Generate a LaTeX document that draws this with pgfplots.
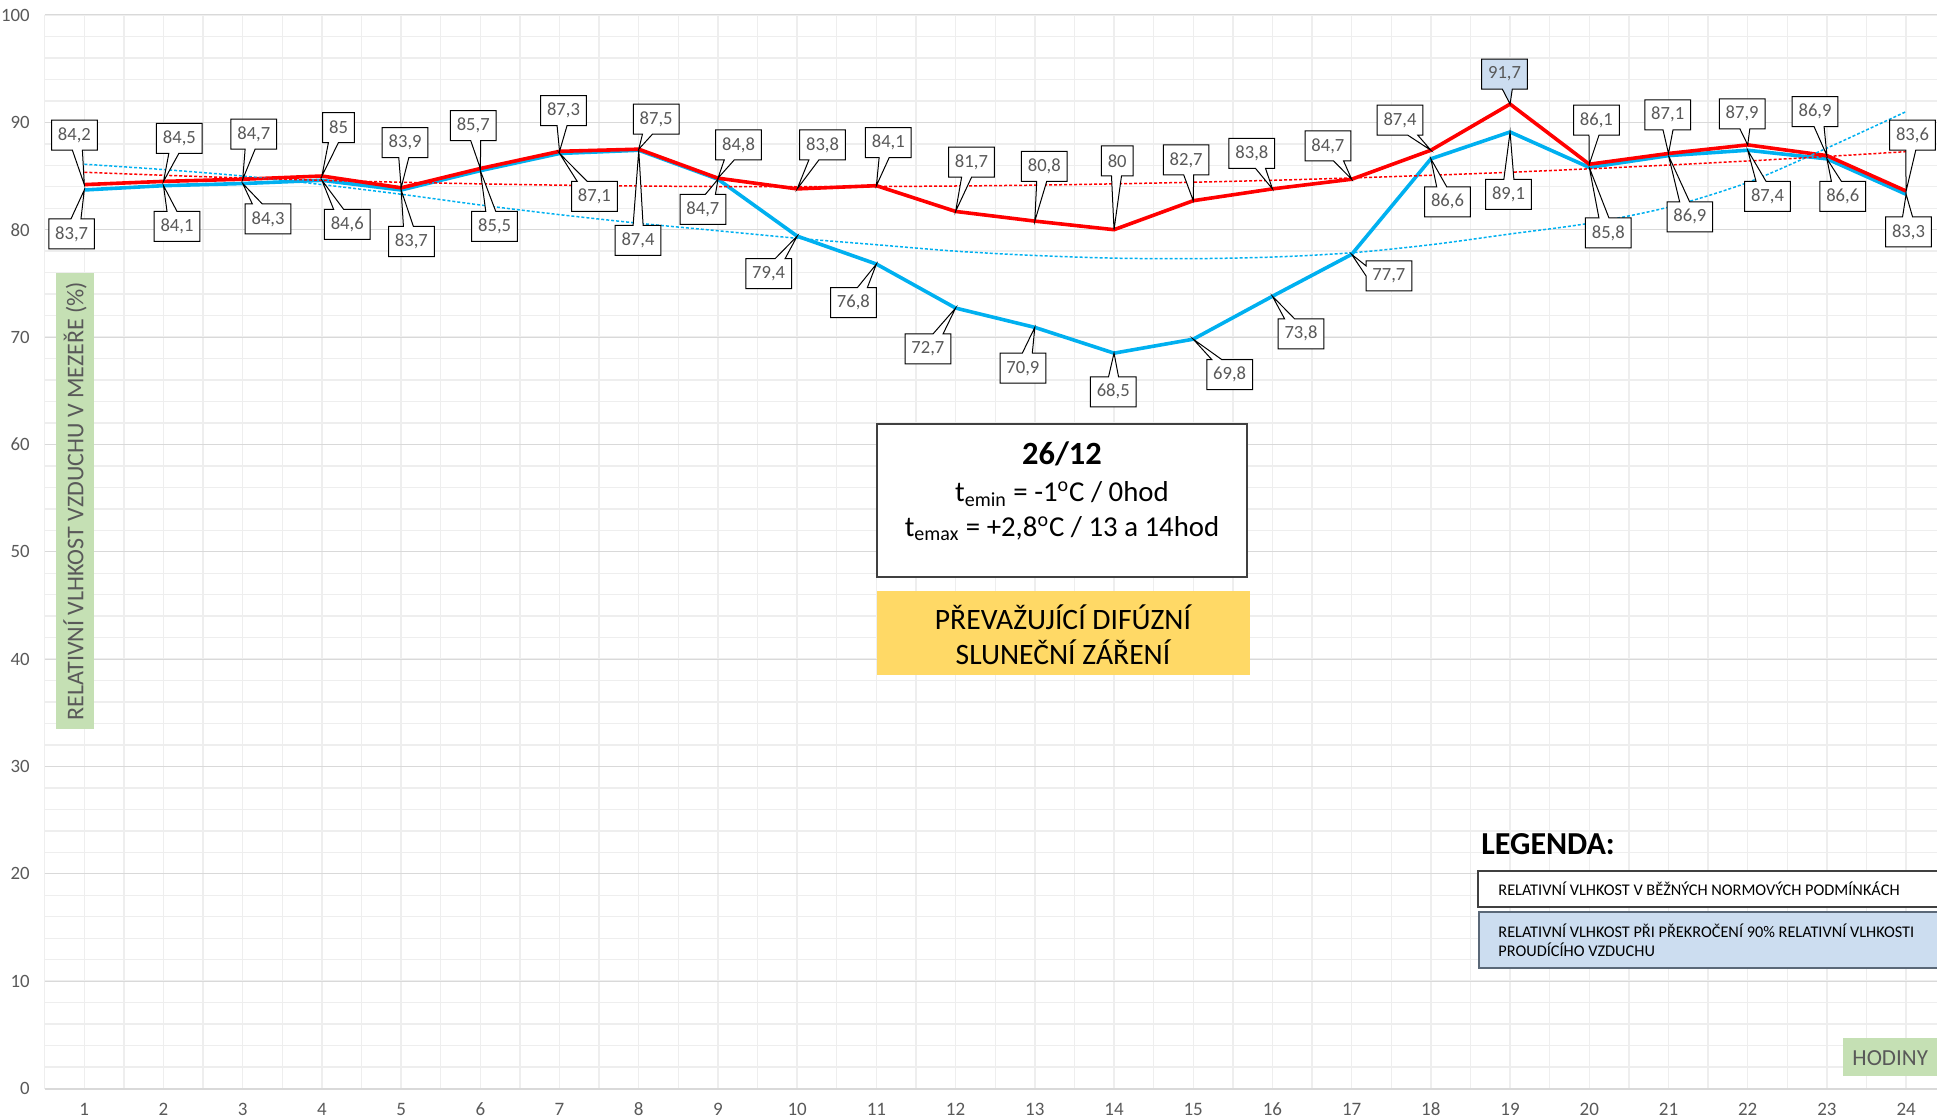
\documentclass[border=0pt]{standalone}
\usepackage{fontspec}
\setmainfont{Carlito}
\usepackage{pgfplots}
\pgfplotsset{compat=1.18}
\usetikzlibrary{shapes.callouts}

\definecolor{redline}{HTML}{FF0000}
\definecolor{blueline}{HTML}{00B0F0}
\definecolor{labelgray}{HTML}{595959}
\definecolor{majorgrid}{HTML}{D9D9D9}
\definecolor{minorgrid}{HTML}{EEEEEE}
\definecolor{greenbox}{HTML}{C5E0B4}
\definecolor{goldbox}{HTML}{FFD966}
\definecolor{lightbluebox}{HTML}{CCDDF0}
\definecolor{boxborder}{HTML}{404040}
\definecolor{box2border}{HTML}{5A6878}

\tikzset{
  lbl/.style={rectangle callout, draw=black, line width=0.5pt, fill=white,
    text=labelgray, font=\fontsize{9.3}{10}\selectfont, inner xsep=3.2pt,
    inner ysep=0pt, minimum height=15pt, callout pointer width=5pt},
}
\newcommand{\lab}[6][white]{\node[lbl, fill=#1, callout absolute pointer={(axis cs:#2,#3)}] at (axis cs:#4,#5) {#6};}

\begin{document}
\begin{tikzpicture}[x=1pt,y=1pt]
\useasboundingbox (0,0) rectangle (968.5,559.5);
\clip (0,0) rectangle (968.5,559.5);
\begin{axis}[
  at={(22.35pt,15.25pt)}, anchor=south west,
  scale only axis, width=946.15pt, height=536.75pt,
  xmin=0.5, xmax=24.39, ymin=0, ymax=100,
  axis line style={draw=none},
  xtick={1,...,24},
  minor xtick={0.5,1.5,...,24.5},
  ytick={0,10,...,100},
  minor ytick={2,4,...,98},
  major tick length=0pt, minor tick length=0pt,
  grid=both,
  major grid style={draw=minorgrid, line width=0.7pt},
  minor grid style={draw=minorgrid, line width=0.7pt},
  /pgf/number format/assume math mode=true,
  yticklabel style={font=\fontsize{9.4}{10}\selectfont, text=labelgray, anchor=east, inner sep=0pt, xshift=-7.3pt},
  xticklabel style={font=\fontsize{9.5}{10}\selectfont, text=labelgray, anchor=center, inner sep=0pt, yshift=-10.5pt},
  clip=false,
]
\pgfplotsinvokeforeach{0,10,...,100}{
  \draw[majorgrid, line width=0.5pt] (axis cs:0.5,#1) -- (axis cs:24.39,#1);
}
\draw[majorgrid, line width=1pt] (axis cs:0.5,0) -- (axis cs:24.39,0);

% blue series
\addplot[blueline, line width=1.8pt, mark=none] coordinates {
(1,83.7) (2,84.1) (3,84.3) (4,84.6) (5,83.7) (6,85.5) (7,87.1) (8,87.4)
(9,84.7) (10,79.4) (11,76.8) (12,72.7) (13,70.9) (14,68.5) (15,69.8) (16,73.8)
(17,77.7) (18,86.6) (19,89.1) (20,85.8) (21,86.9) (22,87.4) (23,86.6) (24,83.3)};
% red series
\addplot[redline, line width=1.8pt, mark=none] coordinates {
(1,84.2) (2,84.5) (3,84.7) (4,85) (5,83.9) (6,85.7) (7,87.3) (8,87.5)
(9,84.8) (10,83.8) (11,84.1) (12,81.7) (13,80.8) (14,80) (15,82.7) (16,83.8)
(17,84.7) (18,87.4) (19,91.7) (20,86.1) (21,87.1) (22,87.9) (23,86.9) (24,83.6)};
% trend lines
\addplot[blueline, line width=0.75pt, dash pattern=on 1.5pt off 1pt, smooth, mark=none] coordinates {
(1,86.1) (2,85.6) (3,85.0) (4,84.2) (5,83.3) (6,82.3) (7,81.4) (8,80.6)
(9,79.9) (10,79.2) (11,78.6) (12,78.0) (13,77.6) (14,77.35) (15,77.3) (16,77.45)
(17,77.85) (18,78.6) (19,79.6) (20,80.6) (21,82.1) (22,84.4) (23,87.6) (24,91.0)};
\addplot[redline, line width=0.75pt, dash pattern=on 1.5pt off 1pt, smooth, mark=none] coordinates {
(1,85.35) (2,85.07) (3,84.82) (4,84.60) (5,84.42) (6,84.27) (7,84.15) (8,84.07)
(9,84.02) (10,84.0) (11,84.02) (12,84.07) (13,84.15) (14,84.27) (15,84.42) (16,84.60)
(17,84.82) (18,85.07) (19,85.35) (20,85.67) (21,86.02) (22,86.40) (23,86.82) (24,87.27)};

% red labels
\lab{1}{84.2}{0.875}{88.8}{84,2}
\lab{2}{84.5}{2.20}{88.5}{84,5}
\lab{3}{84.7}{3.14}{88.9}{84,7}
\lab{4}{85}{4.21}{89.5}{85}
\lab{5}{83.9}{5.05}{88.1}{83,9}
\lab{6}{85.7}{5.91}{89.7}{85,7}
\lab{7}{87.3}{7.05}{91.1}{87,3}
\lab{8}{87.5}{8.22}{90.3}{87,5}
\lab{9}{84.8}{9.26}{87.9}{84,8}
\lab{10}{83.8}{10.32}{87.9}{83,8}
\lab{11}{84.1}{11.15}{88.1}{84,1}
\lab{12}{81.7}{12.20}{86.3}{81,7}
\lab{13}{80.8}{13.12}{85.9}{80,8}
\lab{14}{80}{14.04}{86.4}{80}
\lab{15}{82.7}{14.91}{86.5}{82,7}
\lab{16}{83.8}{15.74}{87.1}{83,8}
\lab{17}{84.7}{16.70}{87.8}{84,7}
\lab{18}{87.4}{17.61}{90.2}{87,4}
\lab[lightbluebox]{19}{91.7}{18.93}{94.5}{91,7}
\lab{20}{86.1}{20.09}{90.2}{86,1}
\lab{21}{87.1}{20.99}{90.7}{87,1}
\lab{22}{87.9}{21.93}{90.8}{87,9}
\lab{23}{86.9}{22.85}{91.0}{86,9}
\lab{24}{83.6}{24.08}{88.8}{83,6}
% blue labels
\lab{1}{83.7}{0.84}{79.6}{83,7}
\lab{2}{84.1}{2.17}{80.3}{84,1}
\lab{3}{84.3}{3.32}{81.0}{84,3}
\lab{4}{84.6}{4.32}{80.5}{84,6}
\lab{5}{83.7}{5.13}{78.9}{83,7}
\lab{6}{85.5}{6.18}{80.3}{85,5}
\lab{7}{87.1}{7.44}{83.1}{87,1}
\lab{8}{87.4}{7.99}{79.0}{87,4}
\lab{9}{84.7}{8.81}{81.9}{84,7}
\lab{10}{79.4}{9.64}{75.9}{79,4}
\lab{11}{76.8}{10.71}{73.2}{76,8}
\lab{12}{72.7}{11.65}{68.9}{72,7}
\lab{13}{70.9}{12.85}{67.1}{70,9}
\lab{14}{68.5}{13.99}{64.9}{68,5}
\lab{15}{69.8}{15.46}{66.5}{69,8}
\lab{16}{73.8}{16.36}{70.3}{73,8}
\lab{17}{77.7}{17.47}{75.7}{77,7}
\lab{18}{86.6}{18.21}{82.6}{86,6}
\lab{19}{89.1}{18.98}{83.3}{89,1}
\lab{20}{85.8}{20.24}{79.7}{85,8}
\lab{21}{86.9}{21.27}{81.2}{86,9}
\lab{22}{87.4}{22.25}{83.1}{87,4}
\lab{23}{86.6}{23.20}{83.1}{86,6}
\lab{24}{83.3}{24.03}{79.8}{83,3}
\end{axis}

% y-axis title
\node[rotate=90, fill=greenbox, text=labelgray, font=\fontsize{12}{14}\selectfont,
  minimum width=228pt, minimum height=19pt, inner sep=0pt] at (37.5,309)
  {RELATIVNÍ VLHKOST VZDUCHU V MEZEŘE (\%)};
% x-axis title
\fill[greenbox] (921.5,21.5) rectangle (975,40.5);
\node[anchor=base west, inner sep=0pt, text=labelgray, font=\fontsize{11.5}{13}\selectfont] at (926,27) {HODINY};

% date box
\draw[draw=boxborder, line width=0.75pt, fill=white] (438.5,271) rectangle (623.5,347.5);
\node[anchor=base, inner sep=0pt, font=\bfseries\fontsize{16.2}{18}\selectfont] at (531,327) {26/12};
\node[anchor=base, inner sep=0pt, font=\fontsize{14.4}{16}\selectfont] at (531,308.6) {t\textsubscript{emin} = -1\textsuperscript{o}C / 0hod};
\node[anchor=base, inner sep=0pt, font=\fontsize{14.4}{16}\selectfont] at (531,291.2) {t\textsubscript{emax} = +2,8\textsuperscript{o}C / 13 a 14hod};

% yellow box
\fill[goldbox] (438.5,222) rectangle (625,264);
\node[anchor=base, inner sep=0pt, font=\fontsize{14.8}{16}\selectfont] at (531.5,244.5) {PŘEVAŽUJÍCÍ DIFÚZNÍ};
\node[anchor=base, inner sep=0pt, font=\fontsize{14.8}{16}\selectfont] at (531.5,227) {SLUNEČNÍ ZÁŘENÍ};

% legend
\node[anchor=base west, inner sep=0pt, font=\bfseries\fontsize{16}{18}\selectfont] at (740.5,132) {LEGENDA:};
\draw[draw=boxborder, line width=0.75pt, fill=white] (739,106) rectangle (985,124);
\node[anchor=base west, inner sep=0pt, font=\fontsize{8.15}{9}\selectfont] at (749,111.5) {RELATIVNÍ VLHKOST V BĚŽNÝCH NORMOVÝCH PODMÍNKÁCH};
\draw[draw=box2border, line width=0.75pt, fill=lightbluebox] (739.5,75.5) rectangle (985,103.5);
\node[anchor=base west, inner sep=0pt, font=\fontsize{8.15}{9}\selectfont] at (749,90.9) {RELATIVNÍ VLHKOST PŘI PŘEKROČENÍ 90\% RELATIVNÍ VLHKOSTI};
\node[anchor=base west, inner sep=0pt, font=\fontsize{8.15}{9}\selectfont] at (749,81.2) {PROUDÍCÍHO VZDUCHU};
\end{tikzpicture}
\end{document}
